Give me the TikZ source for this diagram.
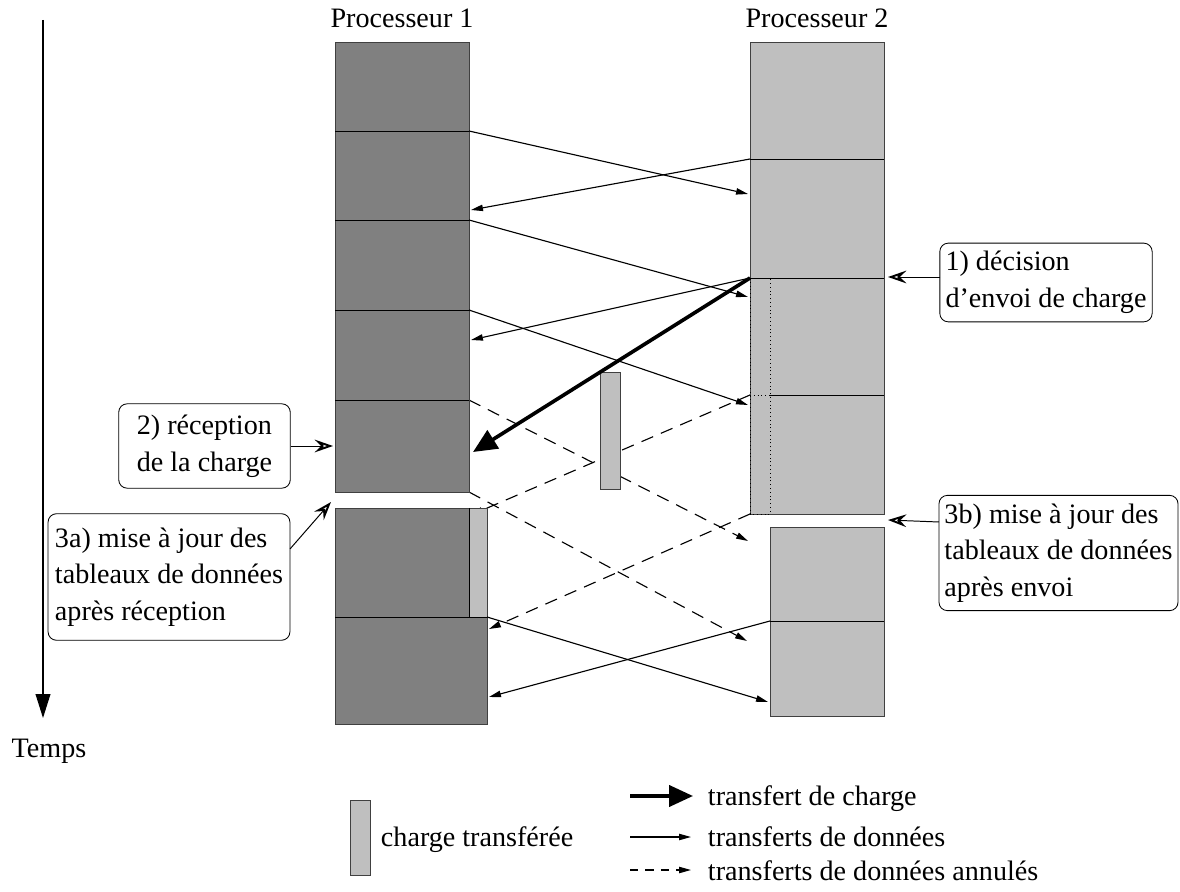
\documentclass[tikz,border=0pt]{standalone}
\usepackage{fontspec}
\setmainfont{Liberation Serif}
\usetikzlibrary{arrows.meta}

\begin{document}
\begin{tikzpicture}[x=0.025cm,y=-0.025cm,
  font=\fontsize{20}{26}\selectfont,
  dark/.style={fill=black!50,draw=black!75,line width=0.6pt},
  light/.style={fill=black!25,draw=black!75,line width=0.6pt},
  data/.style={line width=0.8pt,-{Triangle[length=8.5pt,width=4.5pt]}},
  cancel/.style={data,dash pattern=on 9pt off 6pt},
  load/.style={line width=2.6pt,-{Triangle[length=17pt,width=15pt]}},
  note/.style={draw,rounded corners=6pt,align=left,inner sep=0pt,line width=0.6pt},
  point/.style={line width=0.7pt,-{Stealth[open,length=13pt,width=9pt,inset=4.5pt,line width=1.4pt]}}]

\useasboundingbox (0,0) rectangle (1180,892);

% time axis
\coordinate (t0) at (43,20);
\coordinate (t1) at (43,718);
\draw[line width=0.9pt,-{Triangle[length=17pt,width=10.5pt]}] (t0) -- (t1);
\node[anchor=base] (temps) at (49,757) {Temps};

% column titles
\node[anchor=base] (proc1) at (402,28) {Processeur 1};
\node[anchor=base] (proc2) at (817,28) {Processeur 2};

% points on the columns
\coordinate (p1d1) at (469,131);
\coordinate (p1d2) at (469,220);
\coordinate (p1d3) at (469,310);
\coordinate (p1d4) at (469,400);
\coordinate (p1d5) at (469,492);
\coordinate (p1d6) at (487,617);
\coordinate (p2d1) at (750,159);
\coordinate (p2d2) at (750,278);
\coordinate (p2d3) at (750,395);
\coordinate (p2d4) at (750,514);
\coordinate (p2d6) at (770,621);
\coordinate (p2in1) at (748,194);
\coordinate (p2in2) at (748,297);
\coordinate (p2in3) at (748,405);
\coordinate (p2in4) at (748,541);
\coordinate (p2in5) at (747,641);
\coordinate (p2in6) at (768,702);
\coordinate (p1in1) at (471,210);
\coordinate (p1in2) at (471,340);
\coordinate (p1in3) at (473,452);
\coordinate (p1in4) at (471,515);
\coordinate (p1in5) at (489,629);
\coordinate (p1in6) at (489,697);

% cancelled transfers (under the boxes)
\draw[cancel] (p1d4) -- (p2in4);
\draw[cancel] (p2d3) -- (p1in4);
\draw[cancel] (p1d5) -- (p2in5);
\draw[cancel] (p2d4) -- (p1in5);

% processor 1
\draw[dark] (335,42) rectangle (469,131);
\draw[dark] (335,131) rectangle (469,220);
\draw[dark] (335,220) rectangle (469,310);
\draw[dark] (335,310) rectangle (469,400);
\draw[dark] (335,400) rectangle (469,492);
\draw[dark] (335,508) rectangle (469,617);
\draw[light] (469,508) rectangle (487,617);
\draw[dark] (335,617) rectangle (487,724);
\draw[black] (469,508) -- (469,617);
\foreach \y in {131,220,310,400} \draw[black,line width=0.6pt] (335,\y) -- (469,\y);
\draw[black,line width=0.6pt] (335,617) -- (487,617);

% processor 2
\draw[light] (750,42) rectangle (884,159);
\draw[light] (750,159) rectangle (884,278);
\draw[light] (750,278) rectangle (884,514);
\draw[black,line width=0.6pt] (750,159) -- (884,159);
\draw[black,line width=0.6pt] (750,278) -- (884,278);
\draw[black,line width=0.6pt] (770,395) -- (884,395);
\draw[dotted,line width=0.7pt] (750,278) rectangle (770,514);
\draw[dotted,line width=0.7pt] (750,395) -- (770,395);
\draw[light] (770,527) rectangle (884,621);
\draw[light] (770,621) rectangle (884,716);
\draw[black,line width=0.6pt] (770,621) -- (884,621);

% transferred load
\draw[light] (600,372) rectangle (620,489);

% data transfers
\draw[data] (p1d1) -- (p2in1);
\draw[data] (p2d1) -- (p1in1);
\draw[data] (p1d2) -- (p2in2);
\draw[data] (p2d2) -- (p1in2);
\draw[data] (p1d3) -- (p2in3);
\draw[data] (p1d6) -- (p2in6);
\draw[data] (p2d6) -- (p1in6);
\draw[load] (p2d2) -- (p1in3);

% notes
\node[note,minimum width=151pt,minimum height=56pt] (b1) at (1046,282.5) {1) décision\\d’envoi de charge};
\node[note,minimum width=122pt,minimum height=60pt] (b2) at (204.5,446) {2) réception\\de la charge};
\node[note,minimum width=172pt,minimum height=90pt] (b3a) at (169,577) {3a) mise à jour des\\tableaux de données\\après réception};
\node[note,minimum width=170pt,minimum height=82pt] (b3b) at (1058.5,553) {3b) mise à jour des\\tableaux de données\\après envoi};
\coordinate (b1out) at (940,277);
\coordinate (b1tip) at (888,277);
\coordinate (b2tip) at (333,446);
\coordinate (b3aout) at (290,549);
\coordinate (b3atip) at (331,502);
\coordinate (b3bout) at (939,522);
\coordinate (b3btip) at (888,520);
\draw[point] (b1out) -- (b1tip);
\draw[point] (b2.east) -- (b2tip);
\draw[point] (b3aout) -- (b3atip);
\draw[point] (b3bout) -- (b3btip);

% legend
\draw[light] (350,800) rectangle (370,875);
\node[anchor=base west] (lgload) at (376,846) {charge transférée};
\coordinate (lg1a) at (630,796);
\coordinate (lg1b) at (693,796);
\coordinate (lg2a) at (630,837);
\coordinate (lg2b) at (691,837);
\coordinate (lg3a) at (630,870);
\coordinate (lg3b) at (691,870);
\draw[load] (lg1a) -- (lg1b);
\draw[data] (lg2a) -- (lg2b);
\draw[data,dash pattern=on 6pt off 5pt] (lg3a) -- (lg3b);
\node[anchor=base west] (lgtr1) at (703,805) {transfert de charge};
\node[anchor=base west] (lgtr2) at (703,846) {transferts de données};
\node[anchor=base west] (lgtr3) at (703,880) {transferts de données annulés};
\end{tikzpicture}
\end{document}
